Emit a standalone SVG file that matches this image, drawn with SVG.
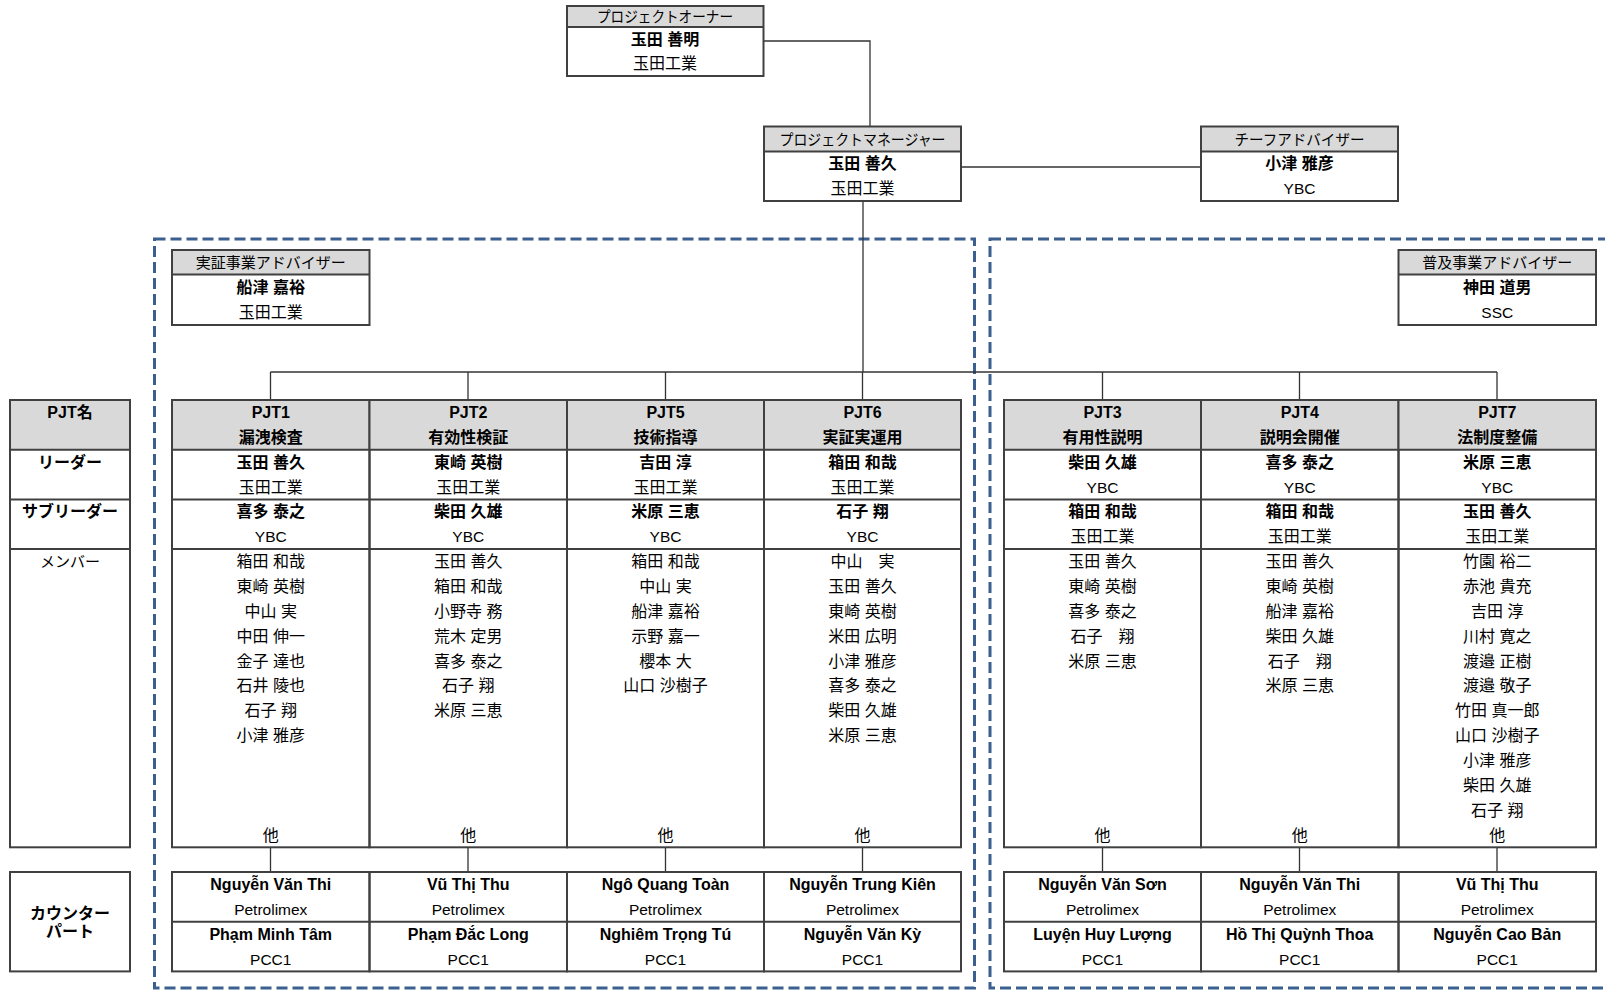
<svg xmlns="http://www.w3.org/2000/svg" width="1605" height="990" viewBox="0 0 1605 990">
<style>
.bg{fill:#fff}
.hdr{fill:#d9d9d9;stroke:none}
.box{fill:none;stroke:#404040;stroke-width:2}
.ln{stroke:#404040;stroke-width:2;fill:none}
.t{font-family:"Liberation Sans","Noto Sans CJK JP",sans-serif;font-size:16px;text-anchor:middle;fill:#000}
.h{font-size:15px}
.l{font-size:15.5px}
.b{font-weight:bold}
.conn{stroke:#333;stroke-width:1.3;fill:none}
.dash{fill:none;stroke:#3b5f8e;stroke-width:3;stroke-dasharray:11 5}
</style>
<rect class="bg" x="0" y="0" width="1605" height="990"/>

<g id="groups">
<rect class="dash" x="154.5" y="239" width="820" height="749"/>
<rect class="dash" x="990" y="239" width="660" height="749"/>
</g>

<g id="connectors">
<path class="conn" d="M763.5 41H870V126.5"/>
<path class="conn" d="M961 167H1201"/>
<path class="conn" d="M863 201V372"/>
<path class="conn" d="M270.5 372H1497"/>
<path class="conn" d="M270.5 372V400M468 372V400M665.5 372V400M862.5 372V400M1102.5 372V400M1299.5 372V400M1497 372V400"/>
<path class="conn" d="M270.5 847V872M468 847V872M665.5 847V872M862.5 847V872M1102.5 847V872M1299.5 847V872M1497 847V872"/>
</g>

<g id="owner">
<rect class="hdr" x="567" y="6" width="196.5" height="21"/>
<rect class="box" x="567" y="6" width="196.5" height="70"/>
<line class="ln" x1="567" y1="27" x2="763.5" y2="27"/>
<text class="t h" x="665" y="22" textLength="136" lengthAdjust="spacingAndGlyphs">プロジェクトオーナー</text>
<text class="t b" x="665" y="44.5">玉田 善明</text>
<text class="t" x="665" y="69">玉田工業</text>
</g>

<g id="pm">
<rect class="hdr" x="764" y="126.5" width="197" height="25"/>
<rect class="box" x="764" y="126.5" width="197" height="74.5"/>
<line class="ln" x1="764" y1="151.5" x2="961" y2="151.5"/>
<text class="t h" x="862.5" y="144.5" textLength="166" lengthAdjust="spacingAndGlyphs">プロジェクトマネージャー</text>
<text class="t b" x="862.5" y="169.2">玉田 善久</text>
<text class="t" x="862.5" y="194">玉田工業</text>
</g>

<g id="chief">
<rect class="hdr" x="1201" y="126.5" width="197" height="25"/>
<rect class="box" x="1201" y="126.5" width="197" height="74.5"/>
<line class="ln" x1="1201" y1="151.5" x2="1398" y2="151.5"/>
<text class="t h" x="1299.5" y="144.5" textLength="130" lengthAdjust="spacingAndGlyphs">チーフアドバイザー</text>
<text class="t b" x="1299.5" y="169.2">小津 雅彦</text>
<text class="t l" x="1299.5" y="194">YBC</text>
</g>

<g id="adv-demo">
<rect class="hdr" x="172" y="250" width="197.5" height="24.5"/>
<rect class="box" x="172" y="250" width="197.5" height="75"/>
<line class="ln" x1="172" y1="274.5" x2="369.5" y2="274.5"/>
<text class="t h" x="270.75" y="267.8">実証事業アドバイザー</text>
<text class="t b" x="270.75" y="292.5">船津 嘉裕</text>
<text class="t" x="270.75" y="317.5">玉田工業</text>
</g>

<g id="adv-spread">
<rect class="hdr" x="1398.5" y="250" width="197.5" height="24.5"/>
<rect class="box" x="1398.5" y="250" width="197.5" height="75"/>
<line class="ln" x1="1398.5" y1="274.5" x2="1596" y2="274.5"/>
<text class="t h" x="1497.25" y="267.8">普及事業アドバイザー</text>
<text class="t b" x="1497.25" y="292.5">神田 道男</text>
<text class="t l" x="1497.25" y="317.5">SSC</text>
</g>

<g id="labels">
<rect class="hdr" x="10" y="400" width="120" height="49.7"/>
<rect class="box" x="10" y="400" width="120" height="447.3"/>
<line class="ln" x1="10" y1="449.7" x2="130" y2="449.7"/>
<line class="ln" x1="10" y1="499.4" x2="130" y2="499.4"/>
<line class="ln" x1="10" y1="549" x2="130" y2="549"/>
<text class="t b" x="70" y="418">PJT名</text>
<text class="t b" x="70" y="467.7">リーダー</text>
<text class="t b" x="70" y="517.4">サブリーダー</text>
<text class="t h" x="70" y="567.1">メンバー</text>
<rect class="box" x="10" y="872" width="120" height="99.4"/>
<text class="t b" x="70" y="918.5">カウンター</text>
<text class="t b" x="70" y="937">パート</text>
</g>

<g id="pjt1" transform="translate(172,0)">
<rect class="hdr" x="0" y="400" width="197.5" height="49.7"/>
<rect class="box" x="0" y="400" width="197.5" height="447.3"/>
<line class="ln" x1="0" y1="449.7" x2="197.5" y2="449.7"/>
<line class="ln" x1="0" y1="499.4" x2="197.5" y2="499.4"/>
<line class="ln" x1="0" y1="549" x2="197.5" y2="549"/>
<text class="t b" x="98.75" y="418">PJT1</text>
<text class="t b" x="98.75" y="442.9">漏洩検査</text>
<text class="t b" x="98.75" y="467.7">玉田 善久</text>
<text class="t" x="98.75" y="492.6">玉田工業</text>
<text class="t b" x="98.75" y="517.4">喜多 泰之</text>
<text class="t l" x="98.75" y="542.3">YBC</text>
<text class="t" x="98.75" y="567.1">箱田 和哉</text>
<text class="t" x="98.75" y="592">東崎 英樹</text>
<text class="t" x="98.75" y="616.8">中山 実</text>
<text class="t" x="98.75" y="641.7">中田 伸一</text>
<text class="t" x="98.75" y="666.5">金子 達也</text>
<text class="t" x="98.75" y="691.4">石井 陵也</text>
<text class="t" x="98.75" y="716.2">石子 翔</text>
<text class="t" x="98.75" y="741.1">小津 雅彦</text>
<text class="t" x="98.75" y="840.5">他</text>
<rect class="box" x="0" y="872" width="197.5" height="99.4"/>
<line class="ln" x1="0" y1="921.7" x2="197.5" y2="921.7"/>
<text class="t b" x="98.75" y="890">Nguyễn Văn Thi</text>
<text class="t l" x="98.75" y="914.8">Petrolimex</text>
<text class="t b" x="98.75" y="939.6">Phạm Minh Tâm</text>
<text class="t l" x="98.75" y="964.5">PCC1</text>
</g>

<g id="pjt2" transform="translate(369.5,0)">
<rect class="hdr" x="0" y="400" width="197.5" height="49.7"/>
<rect class="box" x="0" y="400" width="197.5" height="447.3"/>
<line class="ln" x1="0" y1="449.7" x2="197.5" y2="449.7"/>
<line class="ln" x1="0" y1="499.4" x2="197.5" y2="499.4"/>
<line class="ln" x1="0" y1="549" x2="197.5" y2="549"/>
<text class="t b" x="98.75" y="418">PJT2</text>
<text class="t b" x="98.75" y="442.9">有効性検証</text>
<text class="t b" x="98.75" y="467.7">東崎 英樹</text>
<text class="t" x="98.75" y="492.6">玉田工業</text>
<text class="t b" x="98.75" y="517.4">柴田 久雄</text>
<text class="t l" x="98.75" y="542.3">YBC</text>
<text class="t" x="98.75" y="567.1">玉田 善久</text>
<text class="t" x="98.75" y="592">箱田 和哉</text>
<text class="t" x="98.75" y="616.8">小野寺 務</text>
<text class="t" x="98.75" y="641.7">荒木 定男</text>
<text class="t" x="98.75" y="666.5">喜多 泰之</text>
<text class="t" x="98.75" y="691.4">石子 翔</text>
<text class="t" x="98.75" y="716.2">米原 三恵</text>
<text class="t" x="98.75" y="840.5">他</text>
<rect class="box" x="0" y="872" width="197.5" height="99.4"/>
<line class="ln" x1="0" y1="921.7" x2="197.5" y2="921.7"/>
<text class="t b" x="98.75" y="890">Vũ Thị Thu</text>
<text class="t l" x="98.75" y="914.8">Petrolimex</text>
<text class="t b" x="98.75" y="939.6">Phạm Đắc Long</text>
<text class="t l" x="98.75" y="964.5">PCC1</text>
</g>

<g id="pjt5" transform="translate(567,0)">
<rect class="hdr" x="0" y="400" width="197" height="49.7"/>
<rect class="box" x="0" y="400" width="197" height="447.3"/>
<line class="ln" x1="0" y1="449.7" x2="197" y2="449.7"/>
<line class="ln" x1="0" y1="499.4" x2="197" y2="499.4"/>
<line class="ln" x1="0" y1="549" x2="197" y2="549"/>
<text class="t b" x="98.5" y="418">PJT5</text>
<text class="t b" x="98.5" y="442.9">技術指導</text>
<text class="t b" x="98.5" y="467.7">吉田 淳</text>
<text class="t" x="98.5" y="492.6">玉田工業</text>
<text class="t b" x="98.5" y="517.4">米原 三恵</text>
<text class="t l" x="98.5" y="542.3">YBC</text>
<text class="t" x="98.5" y="567.1">箱田 和哉</text>
<text class="t" x="98.5" y="592">中山 実</text>
<text class="t" x="98.5" y="616.8">船津 嘉裕</text>
<text class="t" x="98.5" y="641.7">示野 嘉一</text>
<text class="t" x="98.5" y="666.5">櫻本 大</text>
<text class="t" x="98.5" y="691.4">山口 沙樹子</text>
<text class="t" x="98.5" y="840.5">他</text>
<rect class="box" x="0" y="872" width="197" height="99.4"/>
<line class="ln" x1="0" y1="921.7" x2="197" y2="921.7"/>
<text class="t b" x="98.5" y="890">Ngô Quang Toàn</text>
<text class="t l" x="98.5" y="914.8">Petrolimex</text>
<text class="t b" x="98.5" y="939.6">Nghiêm Trọng Tú</text>
<text class="t l" x="98.5" y="964.5">PCC1</text>
</g>

<g id="pjt6" transform="translate(764,0)">
<rect class="hdr" x="0" y="400" width="197" height="49.7"/>
<rect class="box" x="0" y="400" width="197" height="447.3"/>
<line class="ln" x1="0" y1="449.7" x2="197" y2="449.7"/>
<line class="ln" x1="0" y1="499.4" x2="197" y2="499.4"/>
<line class="ln" x1="0" y1="549" x2="197" y2="549"/>
<text class="t b" x="98.5" y="418">PJT6</text>
<text class="t b" x="98.5" y="442.9">実証実運用</text>
<text class="t b" x="98.5" y="467.7">箱田 和哉</text>
<text class="t" x="98.5" y="492.6">玉田工業</text>
<text class="t b" x="98.5" y="517.4">石子 翔</text>
<text class="t l" x="98.5" y="542.3">YBC</text>
<text class="t" x="98.5" y="567.1">中山　実</text>
<text class="t" x="98.5" y="592">玉田 善久</text>
<text class="t" x="98.5" y="616.8">東崎 英樹</text>
<text class="t" x="98.5" y="641.7">米田 広明</text>
<text class="t" x="98.5" y="666.5">小津 雅彦</text>
<text class="t" x="98.5" y="691.4">喜多 泰之</text>
<text class="t" x="98.5" y="716.2">柴田 久雄</text>
<text class="t" x="98.5" y="741.1">米原 三恵</text>
<text class="t" x="98.5" y="840.5">他</text>
<rect class="box" x="0" y="872" width="197" height="99.4"/>
<line class="ln" x1="0" y1="921.7" x2="197" y2="921.7"/>
<text class="t b" x="98.5" y="890">Nguyễn Trung Kiên</text>
<text class="t l" x="98.5" y="914.8">Petrolimex</text>
<text class="t b" x="98.5" y="939.6">Nguyễn Văn Kỳ</text>
<text class="t l" x="98.5" y="964.5">PCC1</text>
</g>

<g id="pjt3" transform="translate(1004,0)">
<rect class="hdr" x="0" y="400" width="197" height="49.7"/>
<rect class="box" x="0" y="400" width="197" height="447.3"/>
<line class="ln" x1="0" y1="449.7" x2="197" y2="449.7"/>
<line class="ln" x1="0" y1="499.4" x2="197" y2="499.4"/>
<line class="ln" x1="0" y1="549" x2="197" y2="549"/>
<text class="t b" x="98.5" y="418">PJT3</text>
<text class="t b" x="98.5" y="442.9">有用性説明</text>
<text class="t b" x="98.5" y="467.7">柴田 久雄</text>
<text class="t l" x="98.5" y="492.6">YBC</text>
<text class="t b" x="98.5" y="517.4">箱田 和哉</text>
<text class="t" x="98.5" y="542.3">玉田工業</text>
<text class="t" x="98.5" y="567.1">玉田 善久</text>
<text class="t" x="98.5" y="592">東崎 英樹</text>
<text class="t" x="98.5" y="616.8">喜多 泰之</text>
<text class="t" x="98.5" y="641.7">石子　翔</text>
<text class="t" x="98.5" y="666.5">米原 三恵</text>
<text class="t" x="98.5" y="840.5">他</text>
<rect class="box" x="0" y="872" width="197" height="99.4"/>
<line class="ln" x1="0" y1="921.7" x2="197" y2="921.7"/>
<text class="t b" x="98.5" y="890">Nguyễn Văn Sơn</text>
<text class="t l" x="98.5" y="914.8">Petrolimex</text>
<text class="t b" x="98.5" y="939.6">Luyện Huy Lượng</text>
<text class="t l" x="98.5" y="964.5">PCC1</text>
</g>

<g id="pjt4" transform="translate(1201,0)">
<rect class="hdr" x="0" y="400" width="197.5" height="49.7"/>
<rect class="box" x="0" y="400" width="197.5" height="447.3"/>
<line class="ln" x1="0" y1="449.7" x2="197.5" y2="449.7"/>
<line class="ln" x1="0" y1="499.4" x2="197.5" y2="499.4"/>
<line class="ln" x1="0" y1="549" x2="197.5" y2="549"/>
<text class="t b" x="98.75" y="418">PJT4</text>
<text class="t b" x="98.75" y="442.9">説明会開催</text>
<text class="t b" x="98.75" y="467.7">喜多 泰之</text>
<text class="t l" x="98.75" y="492.6">YBC</text>
<text class="t b" x="98.75" y="517.4">箱田 和哉</text>
<text class="t" x="98.75" y="542.3">玉田工業</text>
<text class="t" x="98.75" y="567.1">玉田 善久</text>
<text class="t" x="98.75" y="592">東崎 英樹</text>
<text class="t" x="98.75" y="616.8">船津 嘉裕</text>
<text class="t" x="98.75" y="641.7">柴田 久雄</text>
<text class="t" x="98.75" y="666.5">石子　翔</text>
<text class="t" x="98.75" y="691.4">米原 三恵</text>
<text class="t" x="98.75" y="840.5">他</text>
<rect class="box" x="0" y="872" width="197.5" height="99.4"/>
<line class="ln" x1="0" y1="921.7" x2="197.5" y2="921.7"/>
<text class="t b" x="98.75" y="890">Nguyễn Văn Thi</text>
<text class="t l" x="98.75" y="914.8">Petrolimex</text>
<text class="t b" x="98.75" y="939.6">Hồ Thị Quỳnh Thoa</text>
<text class="t l" x="98.75" y="964.5">PCC1</text>
</g>

<g id="pjt7" transform="translate(1398.5,0)">
<rect class="hdr" x="0" y="400" width="197.5" height="49.7"/>
<rect class="box" x="0" y="400" width="197.5" height="447.3"/>
<line class="ln" x1="0" y1="449.7" x2="197.5" y2="449.7"/>
<line class="ln" x1="0" y1="499.4" x2="197.5" y2="499.4"/>
<line class="ln" x1="0" y1="549" x2="197.5" y2="549"/>
<text class="t b" x="98.75" y="418">PJT7</text>
<text class="t b" x="98.75" y="442.9">法制度整備</text>
<text class="t b" x="98.75" y="467.7">米原 三恵</text>
<text class="t l" x="98.75" y="492.6">YBC</text>
<text class="t b" x="98.75" y="517.4">玉田 善久</text>
<text class="t" x="98.75" y="542.3">玉田工業</text>
<text class="t" x="98.75" y="567.1">竹園 裕二</text>
<text class="t" x="98.75" y="592">赤池 貴充</text>
<text class="t" x="98.75" y="616.8">吉田 淳</text>
<text class="t" x="98.75" y="641.7">川村 寛之</text>
<text class="t" x="98.75" y="666.5">渡邉 正樹</text>
<text class="t" x="98.75" y="691.4">渡邉 敬子</text>
<text class="t" x="98.75" y="716.2">竹田 真一郎</text>
<text class="t" x="98.75" y="741.1">山口 沙樹子</text>
<text class="t" x="98.75" y="765.9">小津 雅彦</text>
<text class="t" x="98.75" y="790.8">柴田 久雄</text>
<text class="t" x="98.75" y="815.6">石子 翔</text>
<text class="t" x="98.75" y="840.5">他</text>
<rect class="box" x="0" y="872" width="197.5" height="99.4"/>
<line class="ln" x1="0" y1="921.7" x2="197.5" y2="921.7"/>
<text class="t b" x="98.75" y="890">Vũ Thị Thu</text>
<text class="t l" x="98.75" y="914.8">Petrolimex</text>
<text class="t b" x="98.75" y="939.6">Nguyễn Cao Bản</text>
<text class="t l" x="98.75" y="964.5">PCC1</text>
</g>
</svg>
